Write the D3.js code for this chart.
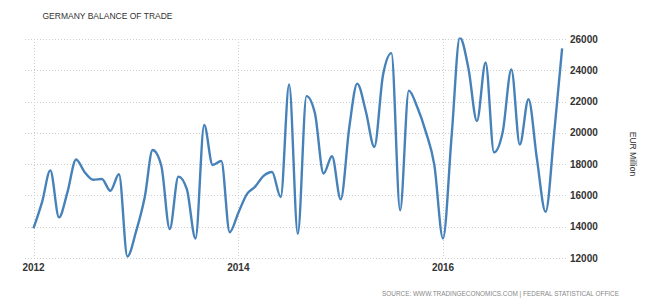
<!DOCTYPE html>
<html>
<head>
<meta charset="utf-8">
<script src="https://cdn.jsdelivr.net/npm/d3@7"></script>
<style>
  body { margin: 0; background: #fff; }
  svg { display: block; font-family: "Liberation Sans", Arial, sans-serif; }
</style>
</head>
<body>
<svg id="chart" width="660" height="307"></svg>
<script>
// monthly trade balance, EUR million, Jan 2012 - Mar 2017
var startYear = 2012;
var balance = [
    13900, 15600, 17600, 14600, 16200, 18300, 17500, 17000, 17050, 16300, 17350, 12100,
    13700, 15900, 18900, 17900, 13850, 17200, 16400, 13250, 20500, 17950, 18200, 13650,
    14900, 16100, 16550, 17250, 17500, 15900, 23100, 13550, 22350, 21250, 17400, 18500,
    15750, 20400, 23150, 21350, 19100, 23700, 25100, 15050, 22700, 21650, 20050, 17950,
    13250, 19850, 26100, 24100, 20750, 24500, 18750, 20050, 24050, 19250, 22150, 18350,
    14950, 20050, 25400
];
var yTicks = [12000, 14000, 16000, 18000, 20000, 22000, 24000, 26000];
var xTicks = [2012, 2014, 2016];

var svg = d3.select("#chart");

var data = balance.map(function(v, i) {
    return { date: new Date(startYear, i, 1), value: v };
});

var x = d3.scaleTime()
    .domain([new Date(2012, 0, 1), new Date(2016, 0, 1)])
    .range([33.5, 443]);

var y = d3.scaleLinear()
    .domain([12000, 26000])
    .range([258, 39]);

var gridLeft = 25, gridRight = 567;

// horizontal grid
svg.append("g").selectAll("line")
    .data(yTicks)
    .enter().append("line")
    .attr("x1", gridLeft)
    .attr("x2", gridRight)
    .attr("y1", function(d) { return Math.round(y(d)) + 0.5; })
    .attr("y2", function(d) { return Math.round(y(d)) + 0.5; })
    .attr("stroke", "#cfcfcf")
    .attr("stroke-dasharray", "1,2");

// vertical grid at year ticks
svg.append("g").selectAll("line")
    .data(xTicks)
    .enter().append("line")
    .attr("x1", function(d) { return Math.round(x(new Date(d, 0, 1))) + 0.5; })
    .attr("x2", function(d) { return Math.round(x(new Date(d, 0, 1))) + 0.5; })
    .attr("y1", y(26000))
    .attr("y2", y(12000))
    .attr("stroke", "#cfcfcf")
    .attr("stroke-dasharray", "1,2");

// y tick labels on the right
svg.append("g").selectAll("text")
    .data(yTicks)
    .enter().append("text")
    .attr("x", 570)
    .attr("y", function(d) { return y(d); })
    .attr("dy", "0.35em")
    .attr("font-size", 10)
    .attr("font-weight", "bold")
    .attr("fill", "#333")
    .text(function(d) { return d; });

// x tick labels
svg.append("g").selectAll("text")
    .data(xTicks)
    .enter().append("text")
    .attr("x", function(d) { return x(new Date(d, 0, 1)); })
    .attr("y", 271)
    .attr("text-anchor", "middle")
    .attr("font-size", 10)
    .attr("font-weight", "bold")
    .attr("fill", "#333")
    .text(function(d) { return d; });

svg.append("clipPath").attr("id", "clip")
    .append("rect")
    .attr("x", 0).attr("y", 37.5)
    .attr("width", 660).attr("height", 230);

var line = d3.line()
    .curve(d3.curveMonotoneX)
    .x(function(d) { return x(d.date); })
    .y(function(d) { return y(d.value); });

svg.append("path")
    .datum(data)
    .attr("clip-path", "url(#clip)")
    .attr("d", line)
    .attr("fill", "none")
    .attr("stroke", "#4682b9")
    .attr("stroke-width", 2.4)
    .attr("stroke-linejoin", "round");

// title
svg.append("text")
    .attr("x", 42.5)
    .attr("y", 19)
    .attr("font-size", 9.5)
    .attr("textLength", 130)
    .attr("lengthAdjust", "spacingAndGlyphs")
    .attr("fill", "#333")
    .text("GERMANY BALANCE OF TRADE");

// unit label
svg.append("text")
    .attr("transform", "translate(630,154) rotate(90)")
    .attr("text-anchor", "middle")
    .attr("font-size", 8.5)
    .attr("fill", "#333")
    .text("EUR Million");

// source
svg.append("text")
    .attr("x", 382)
    .attr("y", 296)
    .attr("font-size", 6.5)
    .attr("textLength", 237)
    .attr("lengthAdjust", "spacingAndGlyphs")
    .attr("fill", "#888")
    .text("SOURCE: WWW.TRADINGECONOMICS.COM | FEDERAL STATISTICAL OFFICE");
</script>
</body>
</html>
